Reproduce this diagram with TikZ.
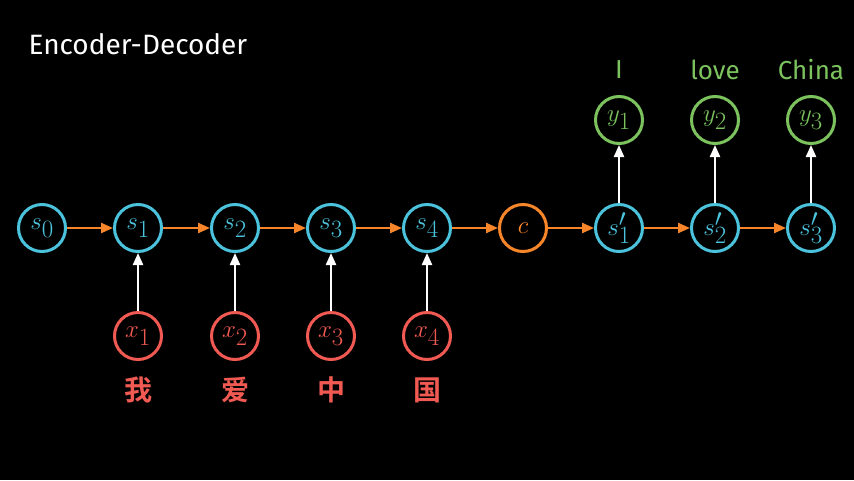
\documentclass[tikz,border=0pt]{standalone}
\usepackage{fontspec}
\setmainfont{Fira Sans}
\newfontfamily\cjk{Noto Sans CJK SC Bold}
\usetikzlibrary{arrows.meta}
\definecolor{cblue}{HTML}{4CC3DC}
\definecolor{corange}{HTML}{F7862A}
\definecolor{cred}{HTML}{F05A52}
\definecolor{cgreen}{HTML}{7CC35E}
\tikzset{
  circ/.style={circle, draw=#1, text=#1, line width=3pt, minimum size=47pt, inner sep=0pt, font=\fontsize{34}{36}\selectfont},
  harrow/.style={draw=corange, line width=2.2pt, -{Triangle[length=12pt,width=10pt]}},
  varrow/.style={draw=white, line width=2.2pt, -{Triangle[length=12pt,width=10pt]}},
  lab/.style={text=#1, font=\fontsize{26}{28}\selectfont},
  cnlab/.style={text=#1, font=\cjk\fontsize{28}{30}\selectfont},
}
\begin{document}
\begin{tikzpicture}[x=1pt,y=-1pt]
\fill[black] (0,0) rectangle (854,480);
\useasboundingbox (0,0) rectangle (854,480);
\node[text=white, font=\fontsize{28}{30}\selectfont, anchor=west] (title) at (25,44) {Encoder-Decoder};
\node[circ=cblue] (s0) at (42,228) {$s_0$};
\node[circ=cblue] (s1) at (138,228) {$s_1$};
\node[circ=cblue] (s2) at (235,228) {$s_2$};
\node[circ=cblue] (s3) at (331,228) {$s_3$};
\node[circ=cblue] (s4) at (427,228) {$s_4$};
\node[circ=corange] (c) at (523,228) {$c$};
\node[circ=cblue] (d1) at (619,228) {$s'_1$};
\node[circ=cblue] (d2) at (715,228) {$s'_2$};
\node[circ=cblue] (d3) at (811,228) {$s'_3$};
\node[circ=cred] (x1) at (138,336) {$x_1$};
\node[circ=cred] (x2) at (235,336) {$x_2$};
\node[circ=cred] (x3) at (331,336) {$x_3$};
\node[circ=cred] (x4) at (427,336) {$x_4$};
\node[circ=cgreen] (y1) at (619,120) {$y_1$};
\node[circ=cgreen] (y2) at (715,120) {$y_2$};
\node[circ=cgreen] (y3) at (811,120) {$y_3$};
\node[cnlab=cred] (w1) at (138,390) {我};
\node[cnlab=cred] (w2) at (235,390) {爱};
\node[cnlab=cred] (w3) at (331,390) {中};
\node[cnlab=cred] (w4) at (427,390) {国};
\node[lab=cgreen] (e1) at (619,70) {I};
\node[lab=cgreen] (e2) at (715,70) {love};
\node[lab=cgreen] (e3) at (811,70) {China};
\foreach \a/\b in {s0/s1,s1/s2,s2/s3,s3/s4,s4/c,c/d1,d1/d2,d2/d3}
  \draw[harrow] (\a) -- (\b);
\foreach \a/\b in {x1/s1,x2/s2,x3/s3,x4/s4,d1/y1,d2/y2,d3/y3}
  \draw[varrow] (\a) -- (\b);
\end{tikzpicture}
\end{document}
